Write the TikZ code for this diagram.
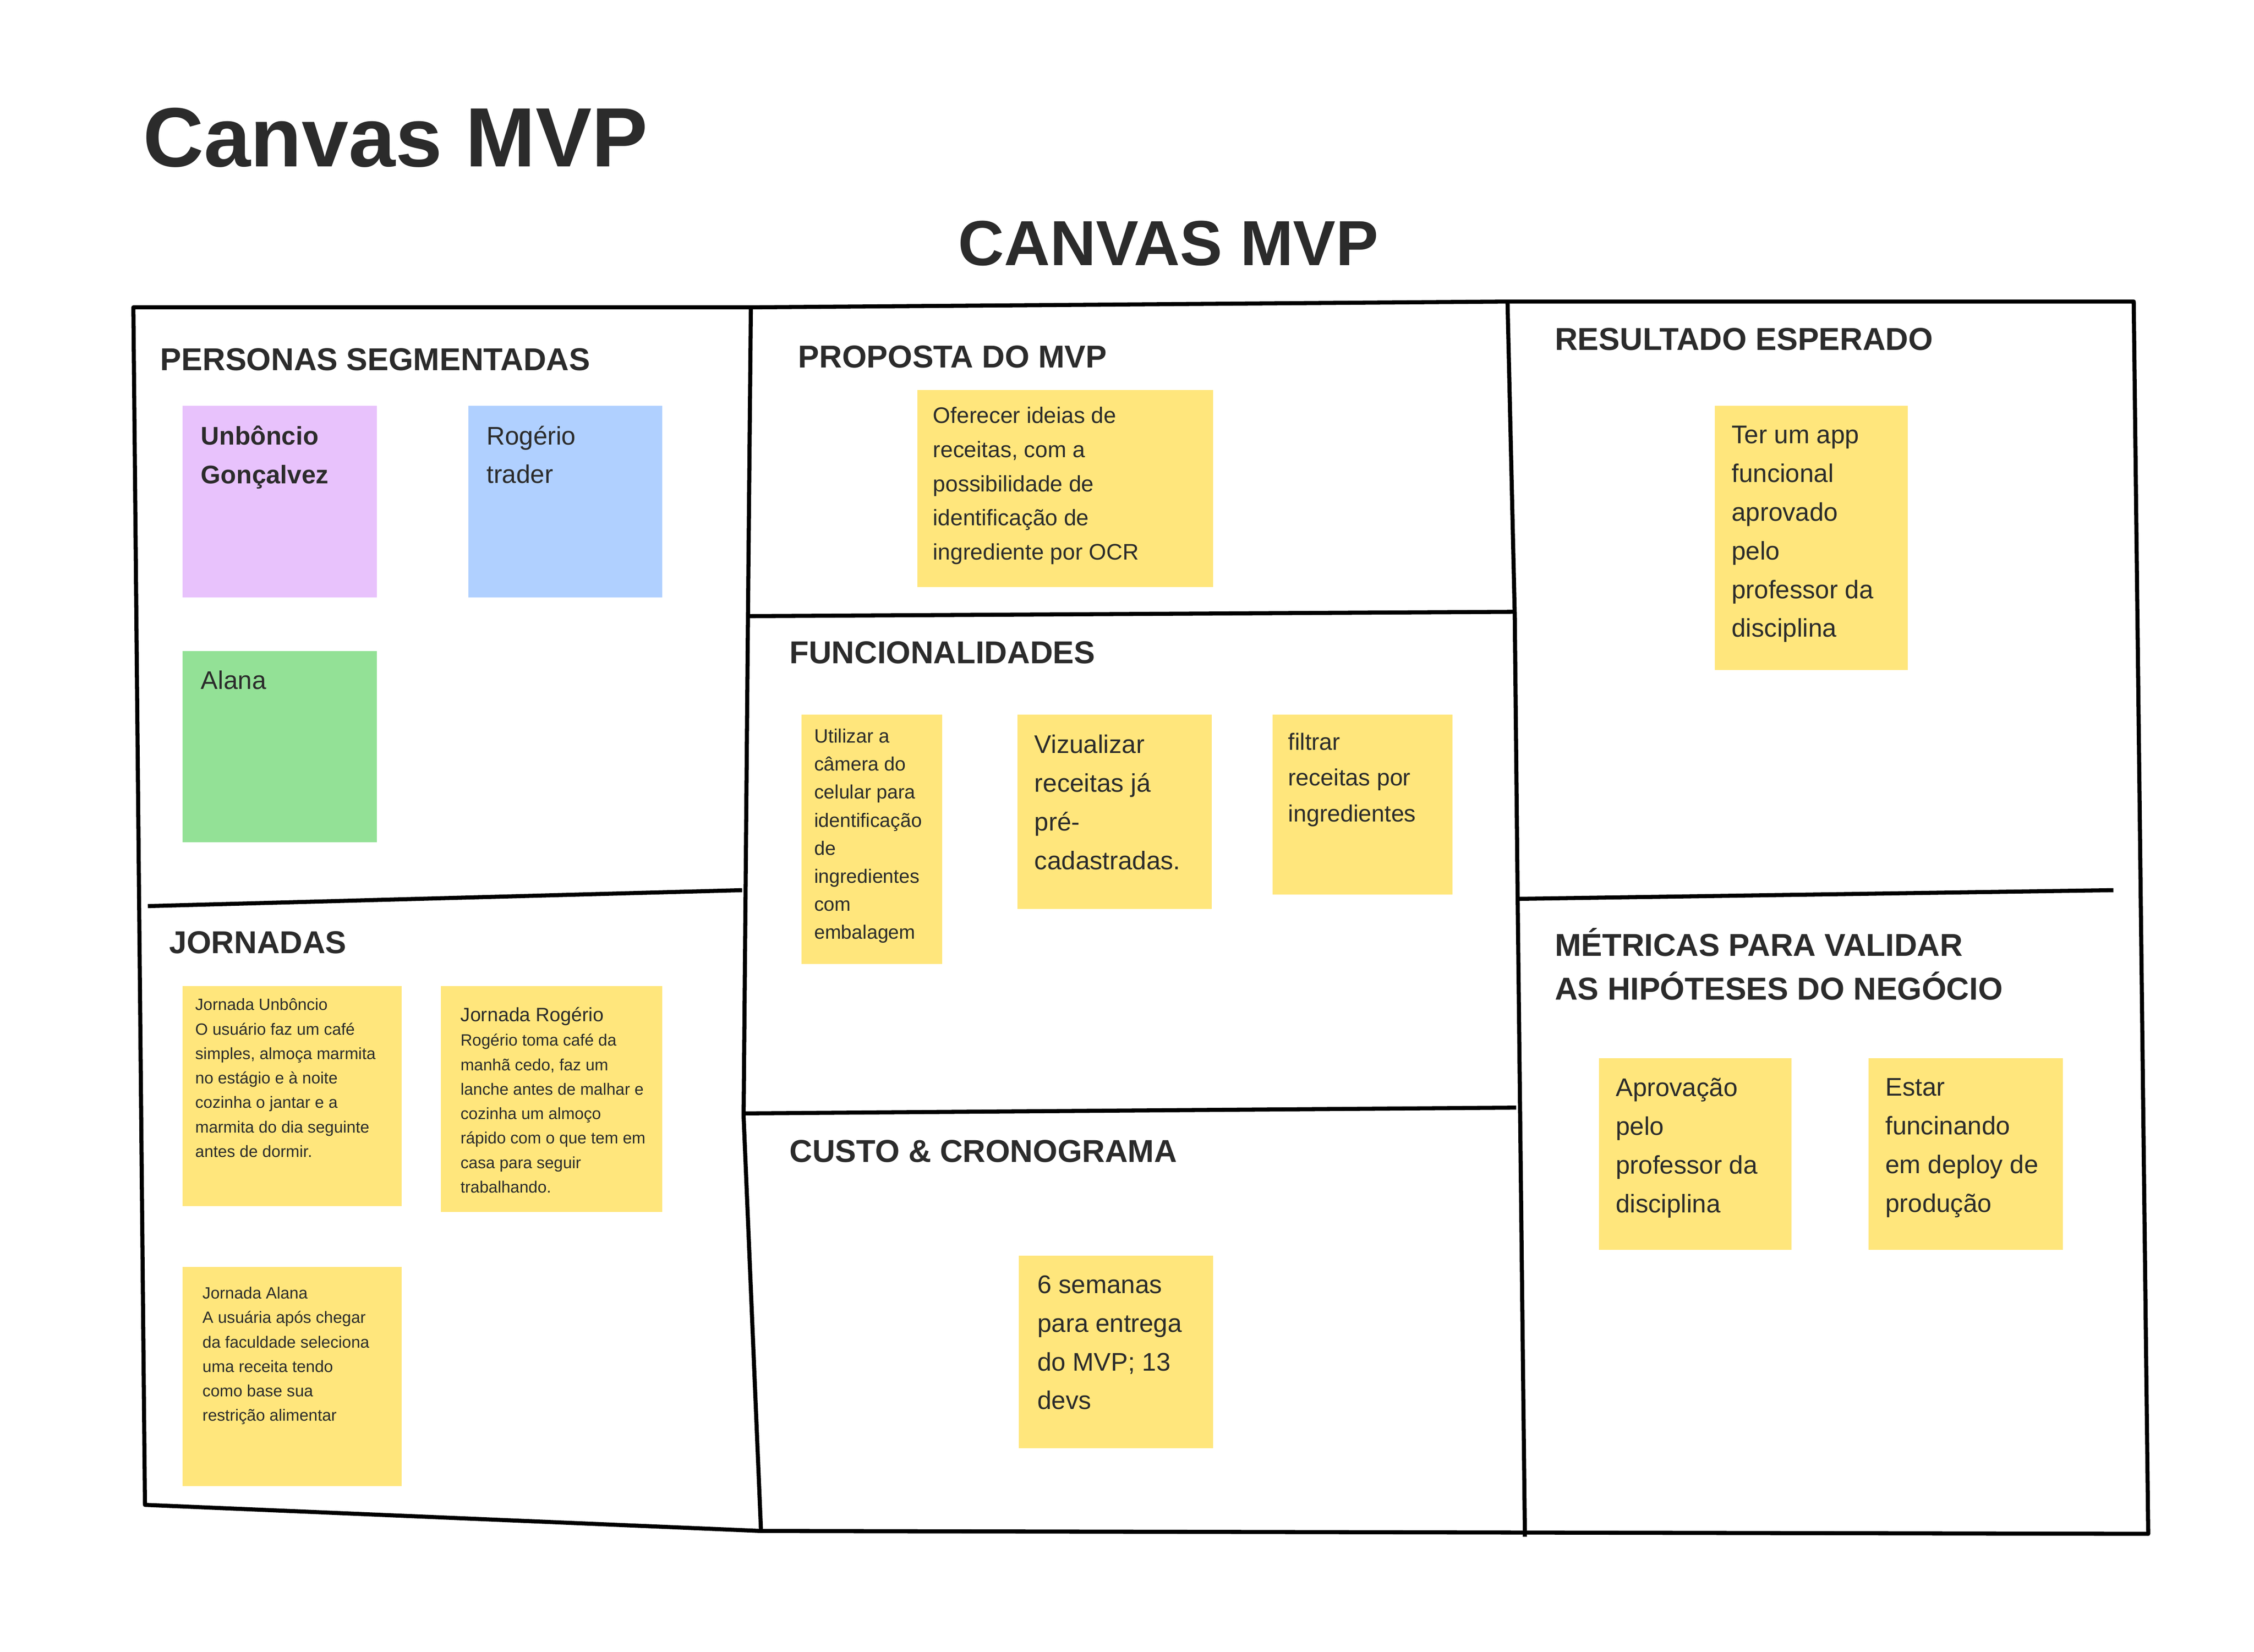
\documentclass[tikz,border=0pt]{standalone}
\usepackage{fontspec}
\setmainfont{Liberation Sans}
\definecolor{sy}{HTML}{FFE67C}
\definecolor{sp}{HTML}{E8C2FC}
\definecolor{sb}{HTML}{B0D0FF}
\definecolor{sg}{HTML}{93E196}
\definecolor{ink}{HTML}{2B2B2B}
\begin{document}
\begin{tikzpicture}[x=0.01cm,y=-0.01cm,
  frame/.style={line width=0.8pt,black,line join=round},
  hd/.style={anchor=west,font=\fontsize{6.2}{7.5}\selectfont\bfseries,text=ink,inner sep=0},
  st/.style={anchor=north west,inner sep=0,align=left,text=ink},
  big/.style={st,font=\fontsize{5}{7.6}\selectfont},
  sm/.style={st,font=\fontsize{3.2}{4.8}\selectfont},
  md/.style={st,font=\fontsize{3.8}{5.5}\selectfont}]
\useasboundingbox (0,0) rectangle (1555,1139.5);
\node[anchor=west,inner sep=0,font=\fontsize{16.5}{18}\selectfont\bfseries,text=ink] (title) at (98,95) {Canvas MVP};
\node[inner sep=0,font=\fontsize{12.5}{14}\selectfont\bfseries,text=ink] (ctitle) at (806,168) {CANVAS MVP};
% frame
\draw[frame] (92,212) -- (518,212) -- (1040,208) -- (1472,208) -- (1482,1058) -- (525,1056) -- (100,1038) -- cycle;
\draw[frame] (518,212) -- (516,425) -- (513,770) -- (525,1056);
\draw[frame] (1040,208) -- (1045,425) -- (1047,620) -- (1052,1060);
\draw[frame] (102,625) -- (512,614);
\draw[frame] (516,425) -- (1045,422);
\draw[frame] (513,768) -- (1046,764);
\draw[frame] (1047,620) -- (1458,614);
% headings
\node[hd] (h1) at (110,248) {PERSONAS SEGMENTADAS};
\node[hd] (h2) at (550,246) {PROPOSTA DO MVP};
\node[hd] (h3) at (1072,234) {RESULTADO ESPERADO};
\node[hd] (h4) at (544,450) {FUNCIONALIDADES};
\node[hd] (h5) at (116,650) {JORNADAS};
\node[hd] (h6) at (544,794) {CUSTO \& CRONOGRAMA};
\node[hd,align=left] (h7) at (1072,665) {MÉTRICAS PARA VALIDAR\\[1pt]AS HIPÓTESES DO NEGÓCIO};
% stickies
\fill[sp] (126,280) rectangle (260,412);
\fill[sb] (323,280) rectangle (457,412);
\fill[sg] (126,449) rectangle (260,581);
\fill[sy] (633,269) rectangle (837,405);
\fill[sy] (553,493) rectangle (650,665);
\fill[sy] (702,493) rectangle (836,627);
\fill[sy] (878,493) rectangle (1002,617);
\fill[sy] (1183,280) rectangle (1316,462);
\fill[sy] (126,680) rectangle (277,832);
\fill[sy] (304,680) rectangle (457,836);
\fill[sy] (126,874) rectangle (277,1025);
\fill[sy] (703,866) rectangle (837,999);
\fill[sy] (1103,730) rectangle (1236,862);
\fill[sy] (1289,730) rectangle (1423,862);
% texts
\node[big,font=\fontsize{5}{7.6}\selectfont\bfseries] (t1) at (138,293) {Unbôncio\\Gonçalvez};
\node[big] (t2) at (335,293) {Rogério\\trader};
\node[big] (t3) at (138,462) {Alana};
\node[big,font=\fontsize{4.4}{6.7}\selectfont] (t4) at (643,280) {Oferecer ideias de\\receitas, com a\\possibilidade de\\identificação de\\ingrediente por OCR};
\node[md] (t5) at (561,502) {Utilizar a\\câmera do\\celular para\\identificação\\de\\ingredientes\\com\\embalagem};
\node[big] (t6) at (713,506) {Vizualizar\\receitas já\\pré-\\cadastradas.};
\node[big,font=\fontsize{4.6}{7}\selectfont] (t7) at (888,505) {filtrar\\receitas por\\ingredientes};
\node[big] (t8) at (1194,293) {Ter um app\\funcional\\aprovado\\pelo\\professor da\\disciplina};
\node[sm] (t9) at (134,688) {Jornada Unbôncio\\O usuário faz um café\\simples, almoça marmita\\no estágio e à noite\\cozinha o jantar e a\\marmita do dia seguinte\\antes de dormir.};
\node[sm] (t10) at (317,694) {{\fontsize{3.8}{5}\selectfont Jornada Rogério}\\Rogério toma café da\\manhã cedo, faz um\\lanche antes de malhar e\\cozinha um almoço\\rápido com o que tem em\\casa para seguir\\trabalhando.};
\node[sm] (t11) at (139,887) {Jornada Alana\\A usuária após chegar\\da faculdade seleciona\\uma receita tendo\\como base sua\\restrição alimentar};
\node[big] (t12) at (715,879) {6 semanas\\para entrega\\do MVP; 13\\devs};
\node[big] (t13) at (1114,743) {Aprovação\\pelo\\professor da\\disciplina};
\node[big] (t14) at (1300,743) {Estar\\funcinando\\em deploy de\\produção};
\end{tikzpicture}
\end{document}
